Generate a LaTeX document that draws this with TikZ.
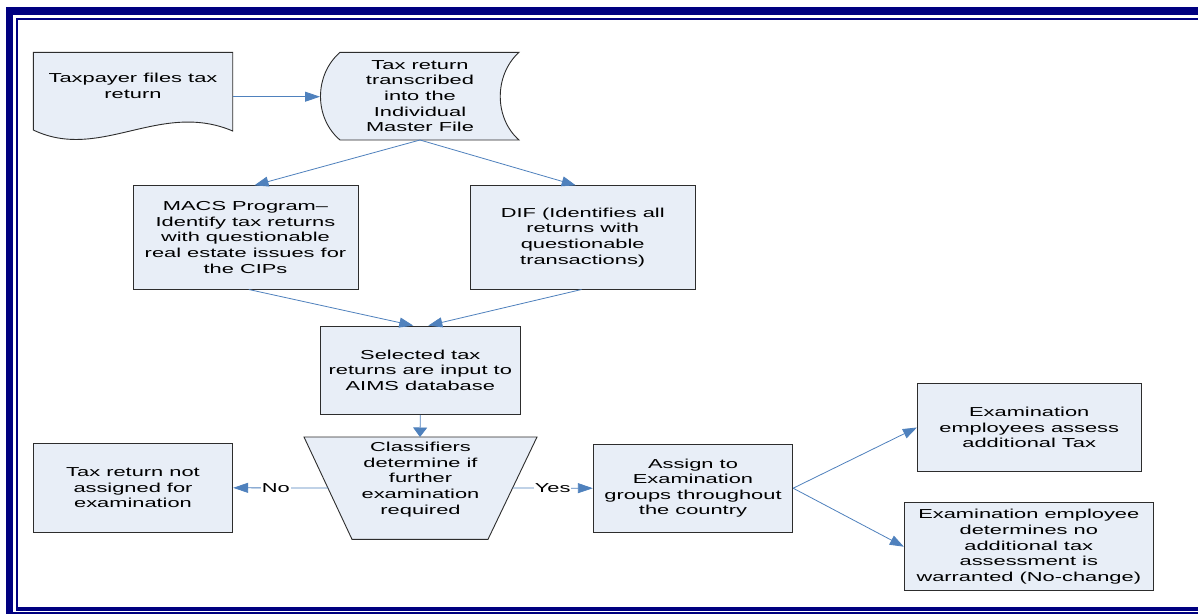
\documentclass[tikz,border=0pt]{standalone}
\usepackage{fontspec}
\newfontfamily\vf[FakeStretch=1.68]{Liberation Sans}
\usetikzlibrary{arrows.meta}
\definecolor{navy}{RGB}{0,0,128}
\definecolor{cblue}{RGB}{79,129,189}
\definecolor{boxfill}{RGB}{232,238,247}
\definecolor{boxline}{RGB}{45,45,45}
\begin{document}
\begin{tikzpicture}[x=1pt,y=-1pt,
  shp/.style={draw=boxline, fill=boxfill, line width=0.9pt},
  vtext/.style={align=center, inner sep=0pt, font=\vf\fontsize{13}{15.6}\selectfont},
  box/.style={shp, vtext},
  conn/.style={draw=cblue, line width=0.8pt},
  arrH/.style={conn, -{Triangle[length=15pt,width=10pt]}},
  arrV/.style={conn, -{Triangle[length=9.5pt,width=14pt]}},
  arrD/.style={conn, -{Triangle[length=14pt,width=10pt]}},
  lbl/.style={fill=white, inner sep=1pt, font=\vf\fontsize{13}{15.6}\selectfont}]
\useasboundingbox (0,0) rectangle (1198,614);
\fill[white] (0,0) rectangle (1198,614);
% frame
\fill[navy] (6,7.3) rectangle (1198,15);
\fill[navy] (6,7.3) rectangle (13.3,614);
\fill[navy] (16,18.3) rectangle (1198,20);
\fill[navy] (16,18.3) rectangle (17.7,610.7);
\fill[navy] (16,607.3) rectangle (1198,610.7);
\fill[navy] (6,612) rectangle (1198,614);
% custom shapes
\draw[shp] (33.3,52.3) -- (232.7,52.3) -- (232.7,131)
  .. controls (160,100) and (100,162) .. (33.3,130) -- cycle;
\draw[shp] (340,52.3) -- (519,52.3) .. controls (494,75) and (494,118) .. (519,140)
  -- (340,140) .. controls (314,118) and (314,75) .. (340,52.3) -- cycle;
\draw[shp] (304,437) -- (537,437) -- (488,539.3) -- (352,539.3) -- cycle;
% coordinates on custom shapes
\coordinate (tpR) at (232.7,96.7);
\coordinate (imfL) at (320,96.7);
\coordinate (imfB) at (420,140);
\coordinate (clsT) at (420,437);
\coordinate (clsL) at (328,488);
\coordinate (clsR) at (512.5,488);
% text and boxes
\node[vtext] (tp) at (133,86) {Taxpayer files tax\\return};
\node[vtext] (imf) at (420,96) {Tax return\\transcribed\\into the\\Individual\\Master File};
\node[box, minimum width=225pt, minimum height=103.3pt] (macs) at (245.5,237.4)
  {MACS Program–\\Identify tax returns\\with questionable\\real estate issues for\\the CIPs};
\node[box, minimum width=224.5pt, minimum height=103.3pt] (dif) at (582.7,237.4)
  {DIF (Identifies all\\returns with\\questionable\\transactions)};
\node[box, minimum width=199.3pt, minimum height=88.3pt] (sel) at (420.3,370.2)
  {Selected tax\\returns are input to\\AIMS database};
\node[vtext] (cls) at (420.5,479.5) {Classifiers\\determine if\\further\\examination\\required};
\node[box, minimum width=199.4pt, minimum height=89pt] (nass) at (133,487.8)
  {Tax return not\\assigned for\\examination};
\node[box, minimum width=199.4pt, minimum height=88.3pt] (asg) at (693,488.2)
  {Assign to\\Examination\\groups throughout\\the country};
\node[box, minimum width=223.7pt, minimum height=88.4pt] (exa) at (1029.2,427.5)
  {Examination\\employees assess\\additional Tax};
\node[box, minimum width=249pt, minimum height=88pt] (exn) at (1028.8,546.7)
  {Examination employee\\determines no\\additional tax\\assessment is\\warranted (No-change)};
% connectors
\draw[arrH] (tpR) -- (imfL);
\draw[arrD] (imfB) -- ([xshift=9pt]macs.north);
\draw[arrD] (imfB) -- ([xshift=-7pt]dif.north);
\draw[arrD] ([xshift=3.3pt]macs.south) -- ([xshift=-7pt]sel.north);
\draw[arrD] ([xshift=-1.2pt]dif.south) -- ([xshift=8pt]sel.north);
\draw[arrV] (sel.south) -- (clsT);
\draw[arrH] (clsL) -- node[lbl, pos=0.55] {No} (nass.east);
\draw[arrH] (clsR) -- node[lbl] {Yes} (asg.west);
\draw[arrD] (asg.east) -- (exa.west);
\draw[arrD] (asg.east) -- (exn.west);
\end{tikzpicture}
\end{document}
